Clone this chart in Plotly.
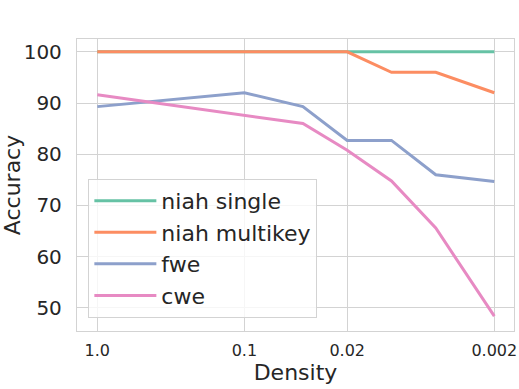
import plotly.graph_objects as go

density = [1.0, 0.1, 0.04, 0.02, 0.01, 0.005, 0.002]
niah_single = [100, 100, 100, 100, 100, 100, 100]
niah_multikey = [100, 100, 100, 100, 96, 96, 92]
fwe = [89.3, 92.0, 89.3, 82.7, 82.7, 76.0, 74.7]
cwe = [91.6, 87.6, 86.0, 80.8, 74.8, 65.6, 48.4]

tick_vals = [1.0, 0.1, 0.02, 0.002]
tick_text = ["1.0", "0.1", "0.02", "0.002"]

series = [
    ("niah single", niah_single, "#66c2a5"),
    ("niah multikey", niah_multikey, "#fc8d62"),
    ("fwe", fwe, "#8da0cb"),
    ("cwe", cwe, "#e78ac3"),
]

fig = go.Figure()
for name, vals, color in series:
    fig.add_trace(go.Scatter(
        x=density, y=vals, name=name, mode="lines",
        line=dict(color=color, width=3),
    ))

grid = "#d3d3d3"
fig.update_layout(
    width=519, height=389,
    margin=dict(l=77, r=5, t=39, b=58),
    paper_bgcolor="white", plot_bgcolor="white",
    font=dict(family="DejaVu Sans", color="#262626"),
    showlegend=True,
    legend=dict(
        x=0.026, y=0.045, xanchor="left", yanchor="bottom",
        bgcolor="rgba(255,255,255,0.8)", bordercolor=grid, borderwidth=1,
        font=dict(size=22), tracegroupgap=0, itemwidth=62,
    ),
)
fig.update_xaxes(
    type="log", range=[0.138, -2.833], automargin=False,
    tickvals=tick_vals, ticktext=tick_text,
    tickfont=dict(size=16), ticklabelstandoff=5,
    showgrid=True, gridcolor=grid, gridwidth=1.3,
    showline=True, mirror=True, linecolor=grid, linewidth=1.3,
    zeroline=False,
    title=dict(text="Density", font=dict(size=22), standoff=0),
)
fig.update_yaxes(
    range=[45.5, 102.5], tickvals=[50, 60, 70, 80, 90, 100], automargin=False,
    tickfont=dict(size=20), ticklabelstandoff=10,
    showgrid=True, gridcolor=grid, gridwidth=1.3,
    showline=True, mirror=True, linecolor=grid, linewidth=1.3,
    zeroline=False,
    title=dict(text="Accuracy", font=dict(size=22), standoff=7),
)

# the page body has an 8px default margin; drop it so the figure sits at 0,0
fig.write_html("out.html", config={"displayModeBar": False},
               post_script="document.body.style.margin='0';")
